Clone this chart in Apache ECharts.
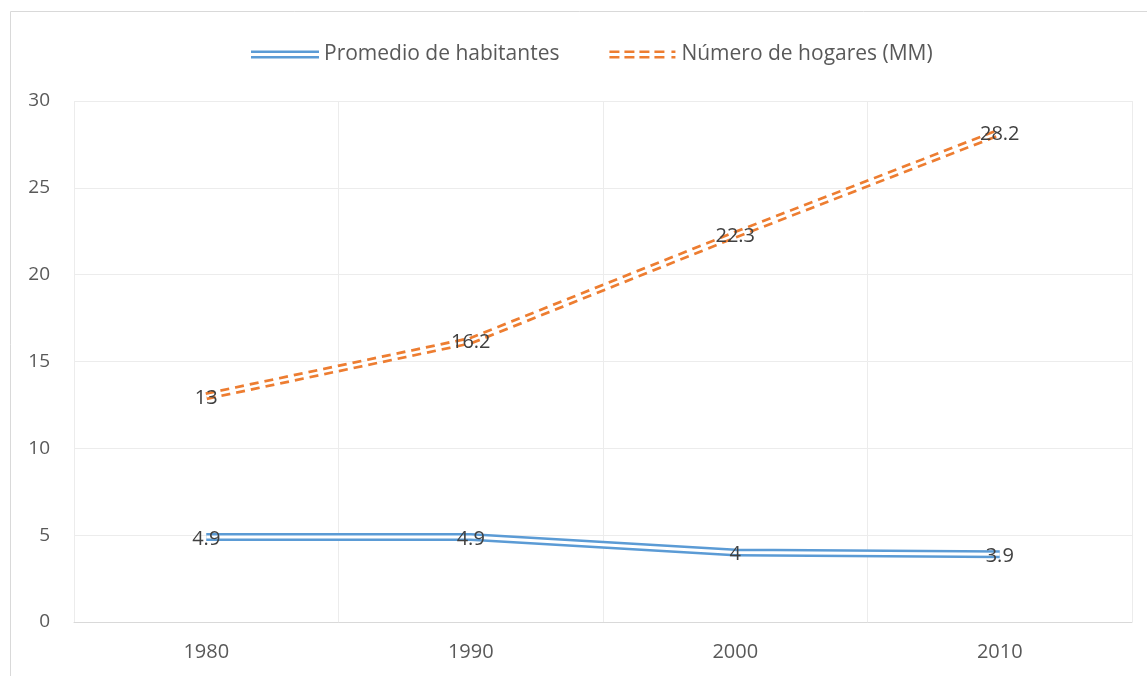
<!DOCTYPE html>
<html><head><meta charset="utf-8">
<script src="https://cdn.jsdelivr.net/npm/echarts@6/dist/echarts.min.js"></script>
<style>html,body{margin:0;padding:0;background:#fff}#c{width:1147px;height:676px}</style>
</head><body><div id="c"></div>
<script>
const categories = ['1980', '1990', '2000', '2010'];
const promedioHabitantes = [4.9, 4.9, 4.0, 3.9];
const numeroHogares = [13, 16.2, 22.3, 28.2];
const yTicks = { min: 0, max: 30, interval: 5 };
const nameA = 'Promedio de habitantes';
const nameB = 'Número de hogares (MM)';

const FONT = '"Open Sans", sans-serif';
const blue = '#5B9BD5', orange = '#ED7D31';
const labelCfg = { show: true, position: 'inside', color: '#404040', fontSize: 20, fontFamily: FONT, offset: [0, 2] };

const chart = echarts.init(document.getElementById('c'), null, { renderer: 'canvas' });
chart.setOption({
  animation: false,
  textStyle: { fontFamily: FONT },
  graphic: [{ type: 'rect', shape: { x: 10.5, y: 11.5, width: 1200, height: 700 }, style: { fill: 'none', stroke: '#d9d9d9', lineWidth: 1 }, silent: true }],
  legend: {
    top: 39, left: 246, itemGap: 50, itemWidth: 68, itemHeight: 8,
    textStyle: { fontSize: 21, color: '#595959', fontFamily: FONT },
    data: [
      { name: nameA, icon: 'path://M0,0H68V2.5H0Z M0,5.5H68V8H0Z', itemStyle: { color: blue } },
      { name: nameB, icon: 'path://M0,0H10V2.5H0Z M0,5.5H10V8H0Z M15,0H25V2.5H15Z M15,5.5H25V8H15Z M30,0H40V2.5H30Z M30,5.5H40V8H30Z M45,0H55V2.5H45Z M45,5.5H55V8H45Z M62,0H66V2.5H62Z M62,5.5H66V8H62Z', itemStyle: { color: orange } }
    ]
  },
  grid: { left: 74, right: 15, top: 101, bottom: 54 },
  xAxis: {
    type: 'category', data: categories, boundaryGap: true,
    axisLine: { lineStyle: { color: '#d9d9d9' } },
    axisTick: { show: false },
    axisLabel: { color: '#595959', fontSize: 20, margin: 20 },
    splitLine: { show: true, lineStyle: { color: '#ececec' } }
  },
  yAxis: {
    type: 'value', min: yTicks.min, max: yTicks.max, interval: yTicks.interval,
    axisLine: { show: false }, axisTick: { show: false },
    axisLabel: { color: '#595959', fontSize: 19, margin: 24 },
    splitLine: { lineStyle: { color: '#ececec' } }
  },
  series: [
    { name: nameA, type: 'line', data: promedioHabitantes, symbol: 'none', z: 2,
      lineStyle: { color: blue, width: 8 }, itemStyle: { color: blue } },
    { name: nameA + ' ', type: 'line', data: promedioHabitantes, z: 3,
      lineStyle: { color: '#ffffff', width: 3 }, label: labelCfg, showSymbol: true, symbolSize: 0,
      symbol: 'circle', itemStyle: { color: 'transparent' } },
    { name: nameB, type: 'line', data: numeroHogares, symbol: 'none', z: 4,
      lineStyle: { color: orange, width: 8, type: [9, 6] }, itemStyle: { color: orange } },
    { name: nameB + ' ', type: 'line', data: numeroHogares, z: 5,
      lineStyle: { color: '#ffffff', width: 2.5 }, label: labelCfg, showSymbol: true, symbolSize: 0,
      symbol: 'circle', itemStyle: { color: 'transparent' } }
  ]
});
</script></body></html>
